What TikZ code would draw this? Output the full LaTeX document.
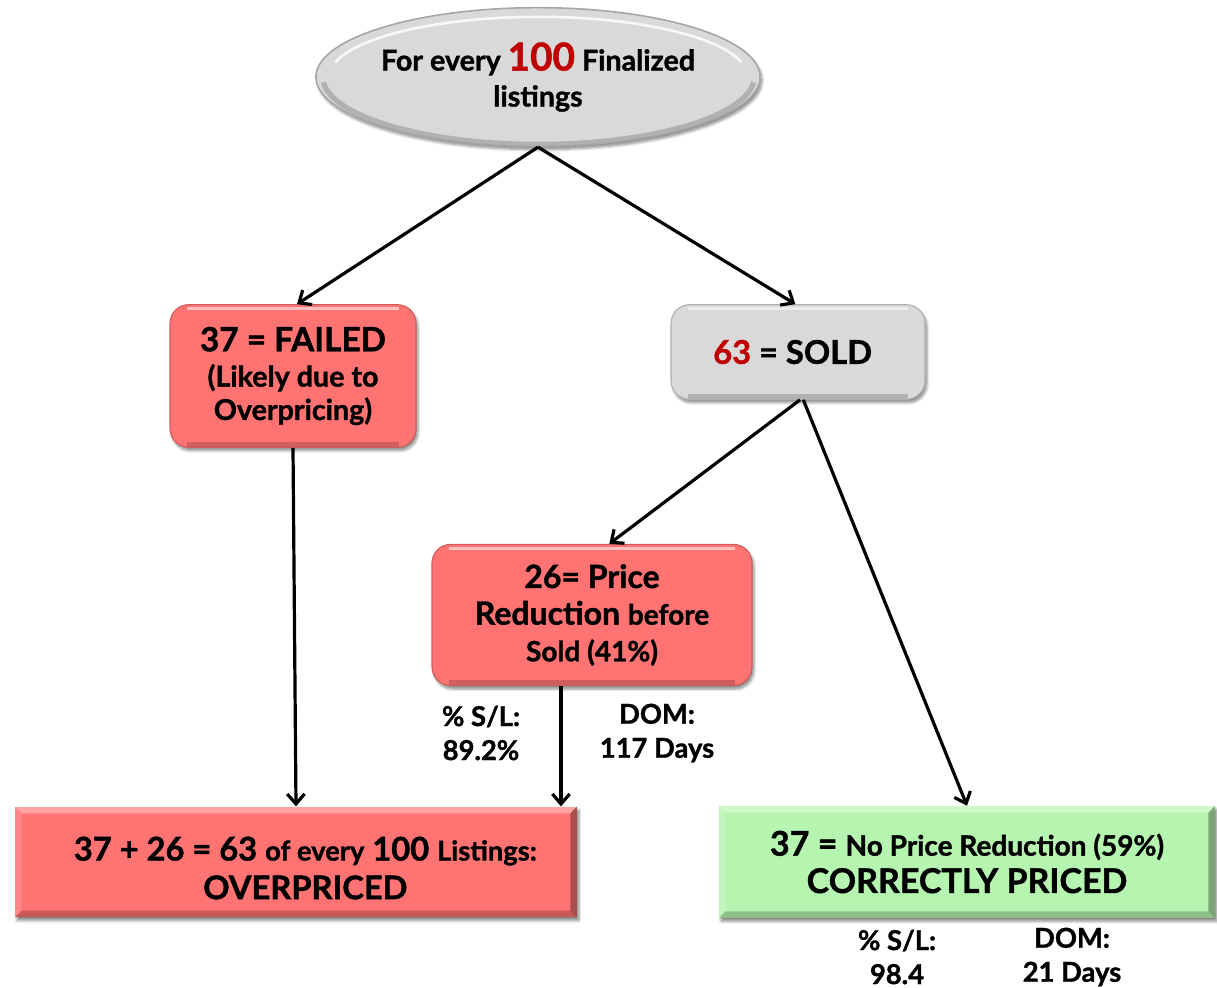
\documentclass[tikz,border=0pt]{standalone}
\usepackage{fontspec}
\setmainfont{Lato}[BoldFeatures={FakeBold=1.2}]
\usetikzlibrary{arrows.meta,shapes.geometric,shadows.blur}

\definecolor{boxred}{RGB}{255,115,115}
\definecolor{boxgreen}{RGB}{181,245,176}
\definecolor{boxgray}{RGB}{217,217,217}
\definecolor{numred}{RGB}{192,0,0}

\newcommand\ppbb{path picture bounding box}
\newcommand\fs[2]{\fontsize{#1}{#2}\selectfont}

\tikzset{
  flow/.style={-{Straight Barb[length=7.5pt,width=13pt]}, line width=2.4pt},
  soft/.style={blur shadow={shadow xshift=1.5pt, shadow yshift=-2.5pt,
               shadow blur steps=6, shadow opacity=45}},
  txt/.style={font=\bfseries, align=center, inner sep=0pt},
  % rounded box with a soft highlight at the top and a darker lower rim
  roundbox/.style={txt, rounded corners=14pt, fill=#1, draw=#1!80!black,
    line width=0.8pt, soft,
    path picture={
      \draw[white, opacity=.55, line width=2pt]
        ([xshift=13pt, yshift=-3pt]\ppbb.north west) --
        ([xshift=-13pt, yshift=-3pt]\ppbb.north east);
      \draw[black, opacity=.18, line width=4pt]
        ([xshift=13pt, yshift=2pt]\ppbb.south west) --
        ([xshift=-13pt, yshift=2pt]\ppbb.south east);
    }},
  % square box with a bevelled frame
  bevelbox/.style={txt, fill=#1, soft,
    path picture={
      \fill[white, opacity=.35] (\ppbb.north west) -- (\ppbb.north east)
        -- ([xshift=-5pt, yshift=-5pt]\ppbb.north east)
        -- ([xshift=5pt, yshift=-5pt]\ppbb.north west) -- cycle;
      \fill[white, opacity=.15] (\ppbb.north west)
        -- ([xshift=5pt, yshift=-5pt]\ppbb.north west)
        -- ([xshift=5pt, yshift=5pt]\ppbb.south west)
        -- (\ppbb.south west) -- cycle;
      \fill[black, opacity=.32] (\ppbb.north east) -- (\ppbb.south east)
        -- ([xshift=-5pt, yshift=5pt]\ppbb.south east)
        -- ([xshift=-5pt, yshift=-5pt]\ppbb.north east) -- cycle;
      \fill[black, opacity=.22] (\ppbb.south west) -- (\ppbb.south east)
        -- ([xshift=-5pt, yshift=5pt]\ppbb.south east)
        -- ([xshift=5pt, yshift=5pt]\ppbb.south west) -- cycle;
    }},
  stat/.style={txt, font=\bfseries\fs{20.5}{25.5}},
}

\begin{document}
\begin{tikzpicture}[x=0.75pt, y=-0.75pt]
  \useasboundingbox (0,0) rectangle (1217,988);

  % top ellipse
  \node[txt, ellipse, fill=boxgray, draw=gray!70, line width=1.2pt, soft,
        minimum width=326pt, minimum height=104pt,
        font=\bfseries\fs{21.5}{27},
        path picture={
          \draw[white, opacity=.8, line width=2pt]
            ([shift={(-152pt,11pt)}]\ppbb.center)
            arc[start angle=166, end angle=14, x radius=157pt, y radius=45pt];
          \draw[black, opacity=.18, line width=4pt]
            ([shift={(-161pt,-4pt)}]\ppbb.center)
            arc[start angle=185, end angle=355, x radius=162pt, y radius=51pt];
        }]
    (top) at (538,77)
    {For every {\fs{29}{30}\color{numred}100} Finalized\\listings};

  % second level
  \node[roundbox=boxred, minimum width=184.5pt, minimum height=107pt,
        font=\bfseries\fs{21.5}{25}]
    (fail) at (293,376)
    {{\fs{25}{28}37 = FAILED}\\[1.5pt](Likely due to\\Overpricing)};

  \node[roundbox=boxgray, minimum width=190.5pt, minimum height=71pt,
        font=\bfseries\fs{24.5}{28}]
    (sold) at (798,352)
    {\hspace*{-8pt}{\color{numred}63} = SOLD};

  % third level
  \node[roundbox=boxred, minimum width=240pt, minimum height=106pt,
        font=\bfseries\fs{24}{27.5}]
    (pr) at (592,615)
    {26= Price\\Reduction {\fs{21}{20}before}\\{\fs{21}{20}Sold (41\%)}};

  % bottom level
  \node[bevelbox=boxred, minimum width=421.5pt, minimum height=83pt,
        font=\bfseries\fs{24.5}{29}]
    (over) at (296,862)
    {\rule{0pt}{27pt}\hspace*{14pt}37 + 26 = 63 {\fs{20.5}{20}of every} 100 {\fs{20.5}{20}Listings:}\\
     \hspace*{14pt}OVERPRICED};

  \node[bevelbox=boxgreen, minimum width=372pt, minimum height=84pt,
        font=\bfseries\fs{25.5}{28}]
    (good) at (967,862)
    {37 = {\fs{21}{20}No Price Reduction (59\%)}\\CORRECTLY PRICED};

  % statistics under the boxes
  \node[stat] (slA)  at (481,733)  {\% S/L:\\89.2\%};
  \node[stat] (domA) at (657,733)  {DOM:\\117 Days};
  \node[stat] (slB)  at (897,957)  {\% S/L:\\98.4};
  \node[stat] (domB) at (1072,957) {DOM:\\21 Days};

  % connectors
  \draw[flow] (top.south) -- ([xshift=3pt]fail.north);
  \draw[flow] (top.south) -- ([xshift=-2pt]sold.north);
  \draw[flow] ([xshift=1.5pt]sold.south) -- ([xshift=13pt]pr.north);
  \draw[flow] ([xshift=4pt]sold.south) -- (good.north);
  \draw[flow] (fail.south) -- (over.north);
  \draw[flow] ([xshift=-23.25pt]pr.south) -- ([xshift=-23.25pt]pr.south |- over.north);
\end{tikzpicture}
\end{document}
